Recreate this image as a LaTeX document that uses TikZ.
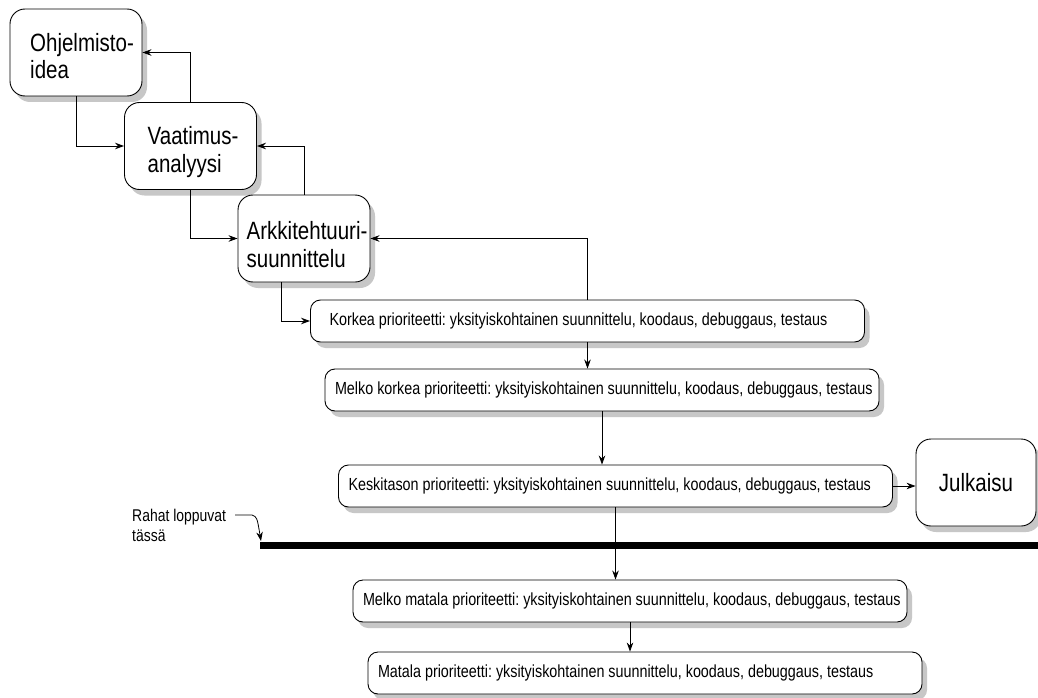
\documentclass[tikz,border=0pt]{standalone}
\usepackage{fontspec}
\setmainfont{Liberation Sans}[FakeStretch=0.82]
\usetikzlibrary{arrows.meta,shadows,calc}
\newcommand{\wline}[1]{\makebox[534pt][l]{#1}}
\begin{document}
\frenchspacing
\begin{tikzpicture}[x=1pt,y=-1pt,
  arr/.style={draw=black,line width=0.8pt,-{Stealth[length=9pt,width=6.5pt]}},
  bigbox/.style={draw=black,line width=0.9pt,fill=white,rounded corners=15pt,
    minimum width=132pt,minimum height=87pt,align=left,inner sep=0pt,
    font=\fontsize{25}{27}\selectfont,
    drop shadow={shadow xshift=5pt,shadow yshift=-6pt,fill=black!22,opacity=1}},
  bigtxt/.style={anchor=north west,align=left,inner sep=0pt,
    font=\fontsize{25}{27.5}\selectfont},
  widebox/.style={draw=black,line width=0.9pt,fill=white,rounded corners=10pt,
    inner xsep=10pt,inner ysep=0pt,minimum height=42pt,
    font=\fontsize{17.5}{20}\selectfont,
    drop shadow={shadow xshift=5pt,shadow yshift=-6pt,fill=black!22,opacity=1}},
  lbl/.style={align=left,inner sep=0pt,font=\fontsize{17}{20}\selectfont}
]
\useasboundingbox (0,0) rectangle (1038,698);
\fill[white] (0,0) rectangle (1038,698);

\node[bigbox] (ohj) at (76,52.5) {};
\node[bigtxt] (ohjt) at (30,33) {Ohjelmisto-\\idea};
\node[bigbox] (vaat) at (190.5,146) {};
\node[bigtxt] (vaatt) at (147.5,126.5) {Vaatimus-\\analyysi};
\node[bigbox] (arkki) at (304,238.5) {};
\node[bigtxt] (arkkit) at (246.5,221.5) {Arkkitehtuuri-\\suunnittelu};
\node[bigbox,minimum width=120pt] (julk) at (976,482.5) {Julkaisu};

\node[widebox] (korkea) at (587.5,321) {\wline{\hspace*{9pt}Korkea prioriteetti: yksityiskohtainen suunnittelu, koodaus, debuggaus, testaus}};
\node[widebox] (mkorkea) at (602,390) {\wline{Melko korkea prioriteetti: yksityiskohtainen suunnittelu, koodaus, debuggaus, testaus}};
\node[widebox] (kesk) at (615.5,486) {\wline{Keskitason prioriteetti: yksityiskohtainen suunnittelu, koodaus, debuggaus, testaus}};
\node[widebox] (mmatala) at (630,601) {\wline{Melko matala prioriteetti: yksityiskohtainen suunnittelu, koodaus, debuggaus, testaus}};
\node[widebox] (matala) at (645,673) {\wline{Matala prioriteetti: yksityiskohtainen suunnittelu, koodaus, debuggaus, testaus}};

\node[lbl,anchor=west] (rahat) at (132,525) {Rahat loppuvat\\tässä};

% money line
\coordinate (barL) at (260,545);
\coordinate (barR) at (1038,545);
\draw[line width=7pt] (barL) -- (barR);

% connectors
\draw[arr] (ohj.south) |- (vaat.west);
\draw[arr] (vaat.north) |- (ohj.east);
\draw[arr] (vaat.south) |- (arkki.west);
\draw[arr] (arkki.north) |- (vaat.east);
\draw[arr] (arkki.south west) ++(44,0) |- (korkea.west);
\draw[arr] (korkea.north) |- (arkki.east);
\draw[arr] (korkea.south) -- (korkea.south |- mkorkea.north);
\draw[arr] (mkorkea.south) -- (mkorkea.south |- kesk.north);
\draw[arr] (kesk.east) -- (kesk.east -| julk.west);
\draw[arr] (kesk.south) -- (kesk.south |- mmatala.north);
\draw[arr] (mmatala.south) -- (mmatala.south |- matala.north);

% leader
\coordinate (lead) at (235,515);
\coordinate (leadb) at (252,515);
\coordinate (tip) at (261,541);
\draw[arr] (lead) -- (leadb) .. controls (257,517) .. (tip);
\end{tikzpicture}
\end{document}
